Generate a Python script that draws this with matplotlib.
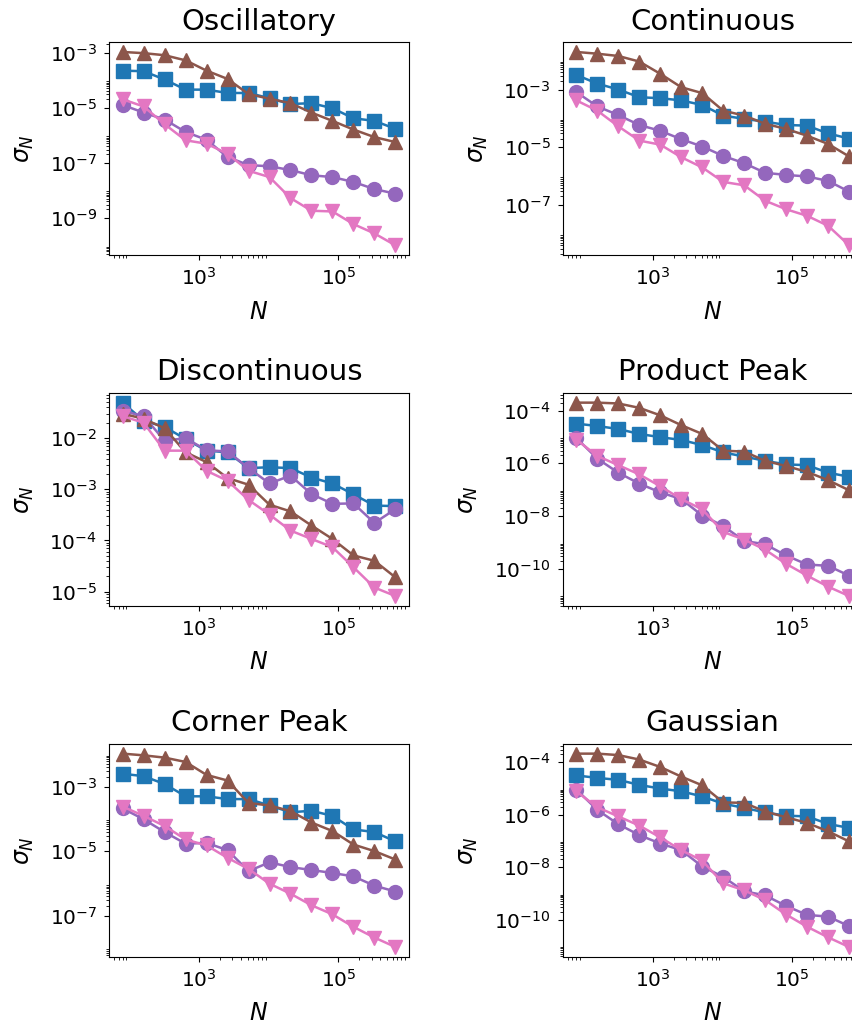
import numpy as np
import matplotlib.pyplot as plt
from matplotlib.ticker import FixedLocator, NullFormatter

# sample sizes (x axis), shared by every panel
N = [80, 160, 320, 640, 1280, 2560, 5120, 10240, 20480, 40960,
     81920, 163840, 327680, 655360]

titles = ['Oscillatory', 'Continuous', 'Discontinuous',
          'Product Peak', 'Corner Peak', 'Gaussian']

# Oscillatory
osc_sq = [2.2e-4, 2.1e-4, 1.05e-4, 4.5e-5, 4.5e-5, 3.4e-5, 3.4e-5, 2.2e-5, 1.35e-5, 1.45e-5, 9.5e-6, 4.1e-6, 3.3e-6, 1.7e-6]
osc_circ = [1.25e-5, 6.6e-6, 3.7e-6, 1.3e-6, 6.8e-7, 1.6e-7, 8.2e-8, 7.4e-8, 5.4e-8, 3.5e-8, 3.0e-8, 2.0e-8, 1.1e-8, 7.5e-9]
osc_up = [1.05e-3, 9.5e-4, 8.0e-4, 5.2e-4, 2.2e-4, 1.1e-4, 3.1e-5, 2.1e-5, 1.45e-5, 6.6e-6, 3.3e-6, 1.6e-6, 8.5e-7, 5.6e-7]
osc_down = [2.0e-5, 1.1e-5, 2.5e-6, 6.5e-7, 4.9e-7, 2.1e-7, 5.1e-8, 3.0e-8, 5.2e-9, 1.8e-9, 1.7e-9, 5.9e-10, 2.7e-10, 1.0e-10]

# Continuous
con_sq = [3.2e-3, 1.6e-3, 1.0e-3, 5.4e-4, 5.0e-4, 4.2e-4, 2.9e-4, 1.25e-4, 9.6e-5, 7.7e-5, 5.9e-5, 5.6e-5, 3.0e-5, 2.0e-5]
con_circ = [8.1e-4, 2.6e-4, 1.3e-4, 5.9e-5, 3.7e-5, 1.9e-5, 1.06e-5, 5.0e-6, 2.8e-6, 1.3e-6, 1.1e-6, 9.7e-7, 6.8e-7, 2.9e-7]
con_up = [2.0e-2, 1.74e-2, 1.45e-2, 9.3e-3, 3.5e-3, 1.2e-3, 7.5e-4, 1.85e-4, 1.25e-4, 6.5e-5, 4.3e-5, 2.5e-5, 1.3e-5, 4.8e-6]
con_down = [4.2e-4, 1.85e-4, 5.3e-5, 1.7e-5, 1.23e-5, 4.5e-6, 2.0e-6, 6.3e-7, 4.8e-7, 1.4e-7, 7.1e-8, 4.2e-8, 1.9e-8, 4.0e-9]

# Discontinuous
dis_sq = [4.95e-2, 2.2e-2, 1.66e-2, 9.6e-3, 5.7e-3, 5.3e-3, 2.6e-3, 2.7e-3, 2.6e-3, 1.7e-3, 1.3e-3, 8.0e-4, 4.8e-4, 4.7e-4]
dis_circ = [3.4e-2, 2.7e-2, 8.9e-3, 1.0e-2, 5.8e-3, 5.5e-3, 2.6e-3, 1.3e-3, 1.85e-3, 8.1e-4, 5.2e-4, 5.3e-4, 2.2e-4, 4.1e-4]
dis_up = [3.0e-2, 2.4e-2, 1.56e-2, 5.3e-3, 3.4e-3, 1.66e-3, 1.23e-3, 5.0e-4, 3.7e-4, 1.96e-4, 1.07e-4, 5.1e-5, 4.0e-5, 1.9e-5]
dis_down = [2.7e-2, 2.0e-2, 5.7e-3, 5.7e-3, 2.3e-3, 1.47e-3, 6.2e-4, 3.2e-4, 1.56e-4, 1.07e-4, 7.4e-5, 3.0e-5, 1.2e-5, 8.2e-6]

# Product Peak
pro_sq = [3.2e-5, 2.6e-5, 2.0e-5, 1.3e-5, 9.8e-6, 7.7e-6, 4.9e-6, 2.6e-6, 1.8e-6, 1.24e-6, 9.1e-7, 8.5e-7, 4.4e-7, 3.1e-7]
pro_circ = [9.1e-6, 1.5e-6, 4.4e-7, 1.7e-7, 7.9e-8, 4.4e-8, 1.05e-8, 4.2e-9, 1.14e-9, 8.5e-10, 3.2e-10, 1.45e-10, 1.3e-10, 5.5e-11]
pro_up = [2.0e-4, 2.0e-4, 1.86e-4, 1.27e-4, 6.6e-5, 2.8e-5, 1.3e-5, 3.0e-6, 2.8e-6, 1.24e-6, 7.9e-7, 4.7e-7, 2.3e-7, 9.5e-8]
pro_down = [7.9e-6, 1.9e-6, 8.5e-7, 3.8e-7, 1.35e-7, 4.4e-8, 1.8e-8, 2.5e-9, 1.28e-9, 5.3e-10, 1.54e-10, 5.5e-11, 2.1e-11, 9.3e-12]

# Corner Peak
cor_sq = [2.5e-3, 2.1e-3, 1.2e-3, 5.0e-4, 5.0e-4, 4.1e-4, 4.1e-4, 2.6e-4, 1.6e-4, 1.78e-4, 1.24e-4, 4.7e-5, 3.9e-5, 2.0e-5]
cor_circ = [2.1e-4, 9.7e-5, 3.9e-5, 1.7e-5, 1.8e-5, 1.07e-5, 2.4e-6, 4.5e-6, 3.2e-6, 2.6e-6, 2.1e-6, 1.65e-6, 8.5e-7, 5.6e-7]
cor_up = [1.05e-2, 9.3e-3, 7.9e-3, 5.8e-3, 2.3e-3, 1.54e-3, 3.1e-4, 2.6e-4, 1.74e-4, 7.7e-5, 4.2e-5, 1.6e-5, 1.0e-5, 5.5e-6]
cor_down = [2.4e-4, 1.24e-4, 6.0e-5, 2.3e-5, 1.5e-5, 6.2e-6, 2.8e-6, 9.8e-7, 4.8e-7, 2.1e-7, 1.1e-7, 4.5e-8, 2.1e-8, 1.07e-8]

# Gaussian
gau_sq = [3.1e-5, 2.5e-5, 2.1e-5, 1.35e-5, 9.8e-6, 7.7e-6, 4.9e-6, 2.6e-6, 1.8e-6, 1.2e-6, 9.1e-7, 8.5e-7, 4.4e-7, 3.1e-7]
gau_circ = [9.0e-6, 1.5e-6, 4.3e-7, 1.65e-7, 7.9e-8, 4.4e-8, 1.05e-8, 4.2e-9, 1.2e-9, 8.3e-10, 3.3e-10, 1.5e-10, 1.3e-10, 5.6e-11]
gau_up = [2.1e-4, 2.1e-4, 1.85e-4, 1.25e-4, 6.5e-5, 2.8e-5, 1.3e-5, 2.9e-6, 2.8e-6, 1.3e-6, 7.9e-7, 4.8e-7, 2.3e-7, 9.5e-8]
gau_down = [7.6e-6, 1.9e-6, 8.5e-7, 3.8e-7, 1.35e-7, 4.4e-8, 1.75e-8, 2.4e-9, 1.3e-9, 5.5e-10, 1.55e-10, 5.3e-11, 2.1e-11, 9.0e-12]

panels = [
    (osc_sq, osc_circ, osc_up, osc_down),
    (con_sq, con_circ, con_up, con_down),
    (dis_sq, dis_circ, dis_up, dis_down),
    (pro_sq, pro_circ, pro_up, pro_down),
    (cor_sq, cor_circ, cor_up, cor_down),
    (gau_sq, gau_circ, gau_up, gau_down),
]

# decade exponents that carry a labelled tick (x is the same everywhere)
x_exps = [1, 3, 5, 7]
y_exps = [
    [-11, -9, -7, -5, -3, -1],
    [-9, -7, -5, -3, -1],
    [-6, -5, -4, -3, -2, -1],
    [-12, -10, -8, -6, -4, -2],
    [-9, -7, -5, -3, -1],
    [-12, -10, -8, -6, -4, -2],
]

styles = [('tab:blue', 's'), ('tab:purple', 'o'), ('tab:brown', '^'), ('tab:pink', 'v')]


def set_log_ticks(axis, exps):
    # major ticks at given decades, minor 2..9 only in the decade above each major
    axis.set_major_locator(FixedLocator([10.0 ** e for e in exps]))
    minors = [k * 10.0 ** e for e in exps for k in range(2, 10)]
    axis.set_minor_locator(FixedLocator(minors))
    axis.set_minor_formatter(NullFormatter())


fig = plt.figure(figsize=(8.53, 10.29), dpi=100)

# axes placement (right column runs off the canvas, as in the original)
lefts = [0.1278, 0.6597]
bottoms = [0.7522, 0.4114, 0.0703]
w, h = 0.3517, 0.2067

for i, (title, series) in enumerate(zip(titles, panels)):
    ax = fig.add_axes([lefts[i % 2], bottoms[i // 2], w, h])
    for y, (c, m) in zip(series, styles):
        ax.plot(N, y, color=c, marker=m, markersize=10, linewidth=1.8)
    ax.set_xscale('log')
    ax.set_yscale('log')
    ax.autoscale_view()
    xl, yl = ax.get_xlim(), ax.get_ylim()
    set_log_ticks(ax.xaxis, x_exps)
    set_log_ticks(ax.yaxis, y_exps[i])
    ax.set_xlim(xl)
    ax.set_ylim(yl)
    ax.set_title(title, fontsize=21, pad=9)
    ax.set_xlabel('$N$', fontsize=17, labelpad=8)
    ax.set_ylabel(r'$\sigma_N$', fontsize=17, labelpad=10)
    ax.tick_params(labelsize=14.5)
    ax.tick_params(which='major', pad=5)

fig.savefig('out.png', dpi=100)
